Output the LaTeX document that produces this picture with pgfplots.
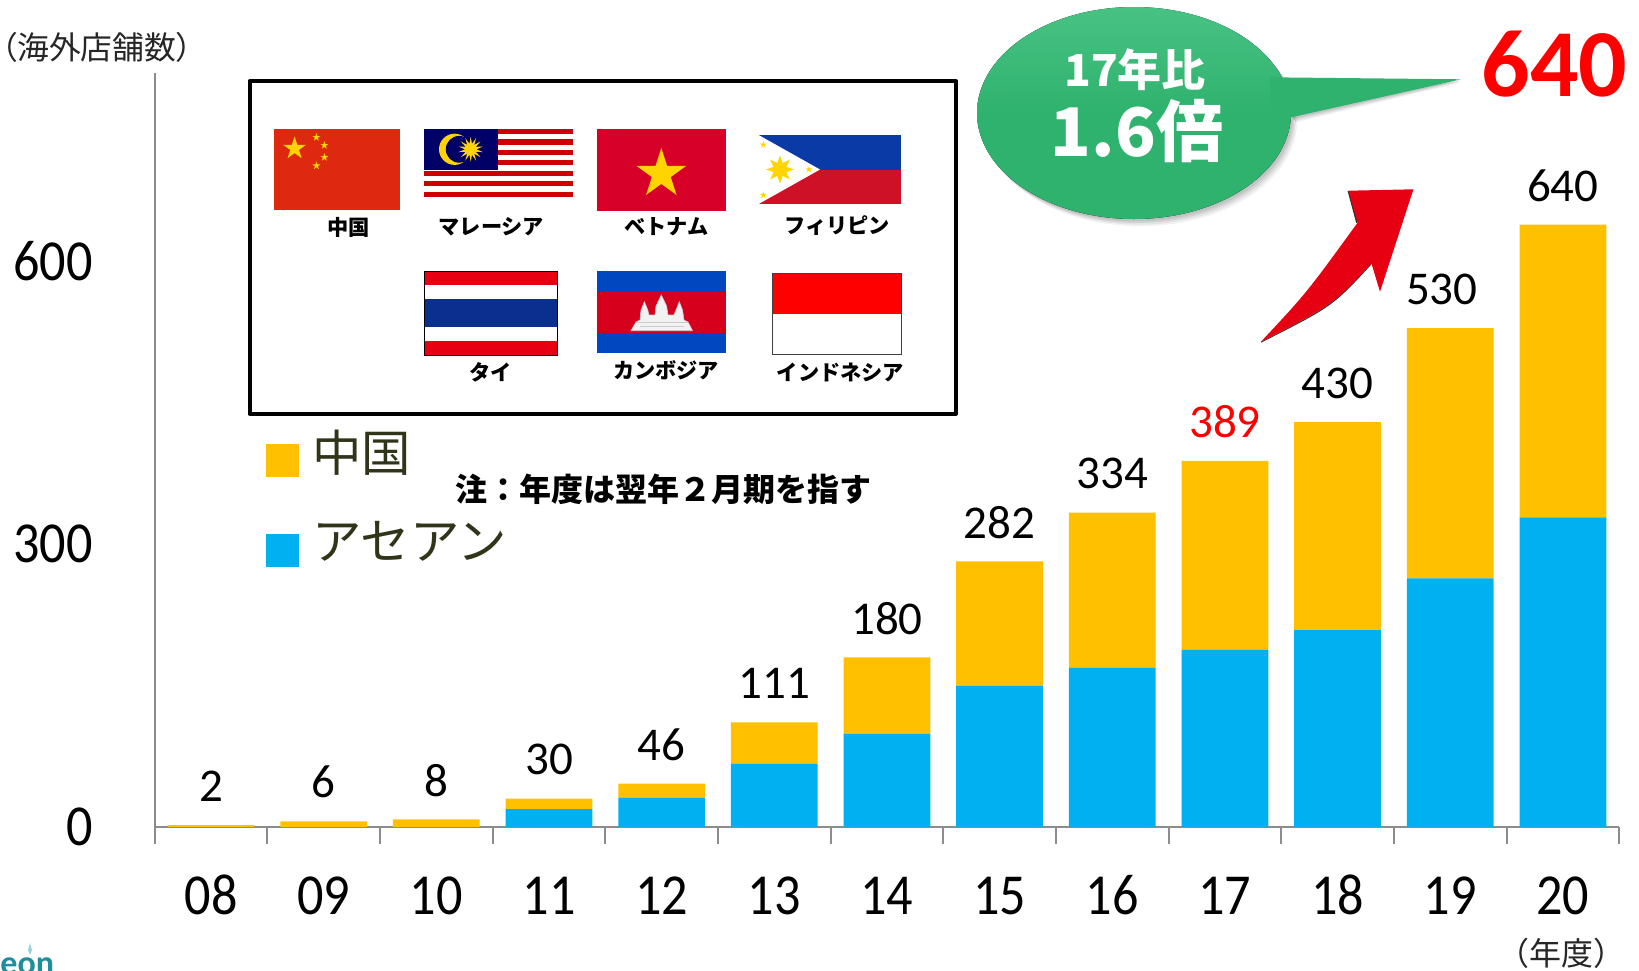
\documentclass[border=0pt]{standalone}
\usepackage{pgfplots}
\usepackage{pgfplotstable}
\usepackage{fontspec}
\pgfplotsset{compat=1.18}
\usetikzlibrary{shapes.geometric}
\setmainfont{Carlito}
\newfontfamily\jp{Noto Sans CJK JP}
\newfontfamily\jpp[RawFeature=+palt]{Noto Sans CJK JP}
\newfontfamily\numf[FakeStretch=0.9]{Carlito}
\newcommand\fs[1]{\fontsize{#1}{#1}\selectfont}
\definecolor{cnorange}{HTML}{FFC000}
\definecolor{asblue}{HTML}{00B0F0}
\definecolor{axgray}{HTML}{8C8C8C}
\definecolor{legtxt}{HTML}{2F3518}
\definecolor{callout}{HTML}{2FB26E}
\definecolor{calltop}{HTML}{48C283}
\definecolor{arrowred}{HTML}{E60012}
\definecolor{cnred}{HTML}{DE2910}
\definecolor{flagyellow}{HTML}{FFD400}
\definecolor{vnred}{HTML}{D60028}
\definecolor{phblue}{HTML}{0A3AA5}
\definecolor{phred}{HTML}{CE1126}
\definecolor{thblue}{HTML}{0A2F8F}
\definecolor{khblue}{HTML}{0047C0}
\definecolor{khred}{HTML}{D6001C}
\definecolor{myred}{HTML}{CC0000}
\definecolor{mynavy}{HTML}{000066}
\definecolor{logoteal}{HTML}{1E8E9C}
\definecolor{logolight}{HTML}{9AD3DA}
\pgfplotstableread{
x asean china top label
0 0 2 0.01 2
1 0 6 0.01 6
2 0 8 0.01 8
3 19 11 0.01 30
4 31 15 0.01 46
5 67 44 0.01 111
6 99 81 0.01 180
7 150 132 0.01 282
8 169 165 0.01 334
9 188 201 0.01 \textcolor{red}{389}
10 209 221 0.01 430
11 264 266 0.01 530\kern8.4pt
12 329 311 0.01 640
}\datatable
\newcommand\fstar[4][flagyellow]{\node[star,star points=5,star point ratio=2.618,fill=#1,inner sep=0pt,minimum size=#4pt] at (#2,#3) {};}
\begin{document}
\begin{tikzpicture}
\path[use as bounding box] (0pt,0pt) rectangle (819.5pt,-485pt);
\begin{axis}[
  at={(77.35pt,-413.45pt)},anchor=south west,
  scale only axis,width=732.25pt,height=376.95pt,
  xmin=-0.5,xmax=12.5,ymin=0,ymax=801,
  ybar stacked,bar width=0.77,
  axis x line=bottom,axis y line=left,
  axis line style={draw=axgray,line width=1pt,-},
  clip=false,
  xtick={0,...,12},
  xticklabels={08,09,10,11,12,13,14,15,16,17,18,19,20},
  minor xtick={-0.5,0.5,...,12.5},
  ytick={0,300,600},
  major tick length=0pt,
  minor tick length=8.3pt,
  tick align=outside,
  minor tick style={draw=axgray,line width=1pt},
  /pgf/number format/assume math mode=true,
  typeset ticklabels with strut,
  xticklabel style={font=\numf\fs{29},yshift=-20pt},
  yticklabel style={font=\numf\fs{29},xshift=-27.5pt,yshift=-3.4pt},
  reverse legend,
  legend style={at={(axis description cs:0.0717,0.5382)},anchor=north west,draw=none,fill=none,
    row sep=11pt,legend cell align=left,text=legtxt},
  legend image code/.code={\fill[#1] (0pt,-8.2pt) rectangle (16.5pt,8.2pt);},
]
\addplot[fill=asblue,draw=none] table[x=x,y=asean] {\datatable};
\addlegendentry{\jp\fs{24.7}\hspace*{4.7pt}\raisebox{8.7pt}{アセアン}}
\addplot[fill=cnorange,draw=none] table[x=x,y=china] {\datatable};
\addlegendentry{\jp\fs{24.7}\hspace*{4.7pt}\raisebox{8.7pt}{中国}}
% near-zero top layer that carries the total of each stack
\addplot[draw=none,fill=none,forget plot,point meta=explicit symbolic,nodes near coords,
  every node near coord/.append style={font=\fs{23.5},text=black,yshift=19.5pt}]
  table[x=x,y=top,meta=label] {\datatable};
\end{axis}
\begin{scope}[x=0.5pt,y=-0.5pt]
% axis notes
\node[anchor=west,inner sep=0pt,font=\jpp\fs{15.9},text=black!85] at (1,47) {（海外店舗数）};
\node[inner sep=0pt,font=\jp\fs{16},text=black!85] at (1561,953) {（年度）};
\node[inner sep=0pt,font=\jp\bfseries\fs{16}] at (663,489.5) {注：年度は翌年２月期を指す};
% flag panel
\draw[line width=2pt,line join=round] (249.5,81) rectangle (956,413.5);
% China
\fill[cnred] (273.9,129) rectangle (399.9,210);
\fstar{294.6}{148.5}{12}
\fstar{316.4}{137.3}{4.2}\fstar{324.4}{145.3}{4.2}\fstar{324.4}{157.3}{4.2}\fstar{316.4}{165.7}{4.2}
% Malaysia
\fill[white] (424,129) rectangle (573,196.7);
\foreach \i in {0,2,...,12} {\fill[myred] (424,{129+\i*5.208}) rectangle (573,{129+(\i+1)*5.208});}
\fill[mynavy] (424,129) rectangle (498,170);
\fill[flagyellow] (454.6,149.3) circle[radius=15.6];
\fill[mynavy] (459.2,149.3) circle[radius=13.4];
\node[star,star points=14,star point ratio=2.2,fill=flagyellow,inner sep=0pt,minimum size=12.5pt] at (470.7,149.3) {};
% Vietnam
\fill[vnred] (597,129) rectangle (726,211);
\fstar{661.3}{174}{26}
% Philippines
\fill[phblue] (758.6,135) rectangle (901,169.5);
\fill[phred] (758.6,169.5) rectangle (901,204);
\fill[white] (758.6,135) -- (820,169.5) -- (758.6,204) -- cycle;
\node[star,star points=8,star point ratio=2.0,fill=flagyellow,inner sep=0pt,minimum size=14pt] at (780,169.5) {};
\fstar{763.3}{144.7}{3.6}\fstar{809}{169.5}{3.6}\fstar{763.3}{195}{3.6}
% Thailand
\fill[arrowred] (424,271) rectangle (557,355);
\fill[white] (424,285) rectangle (557,341);
\fill[thblue] (424,299) rectangle (557,327);
\draw[line width=0.4pt] (424,271) rectangle (557,355);
% Cambodia
\fill[khblue] (597,271) rectangle (726,353);
\fill[khred] (597,291.7) rectangle (726,332.7);
\filldraw[fill=black!5,draw=black!20,line width=0.3pt] (631,330.7) -- (636,322) -- (640,320) -- (641,310) -- (644.4,301.7) -- (647.8,310) -- (649,315) -- (655,315) -- (656,306) -- (661.3,295) -- (666.6,306) -- (668,315) -- (674,315) -- (676,310) -- (679.3,301.7) -- (682.5,310) -- (684,320) -- (688,322) -- (692.5,330.7) -- cycle;
\draw[black!20,line width=0.3pt] (636,322) -- (688,322) (640,326) -- (684,326);
% Indonesia
\fill[red] (772,273) rectangle (901.5,314.3);
\draw[black!75,line width=0.5pt] (772,273) rectangle (901.5,354);
% flag labels
\tikzset{flaglab/.style={inner sep=0pt,font=\jp\bfseries\fs{10.6}}}
\node[flaglab] at (348.5,227.3) {中国};
\node[flaglab] at (491.4,226.5) {マレーシア};
\node[flaglab] at (666.3,226.5) {ベトナム};
\node[flaglab] at (837.4,226) {フィリピン};
\node[flaglab] at (490.5,372.5) {タイ};
\node[flaglab] at (666,370) {カンボジア};
\node[flaglab] at (840.4,372.5) {インドネシア};
% callout
\foreach \o/\a in {9/0.05,7/0.06,5/0.07,3/0.08} {
  \fill[black,opacity=\a] ({1134+\o*0.7},{113+\o*0.8}) ellipse[x radius=157,y radius=106];
  \fill[black,opacity=\a] ({1291+\o*0.5},{117+\o*0.6}) -- ({1461},{79+\o*0.4}) -- ({1283},{90}) -- cycle;
}
\fill[top color=calltop,bottom color=callout,middle color=callout] (1134,113) ellipse[x radius=157,y radius=106];
\fill[callout] (1270,77.3) -- (1461,79.3) -- (1291.3,117.3) -- (1270,125) -- cycle;
\node[inner sep=0pt,text=white,font=\jp\bfseries\fs{22}] at (1135,70) {17年比};
\node[inner sep=0pt,text=white,font=\jp\bfseries\fs{33.5}] at (1137,131) {1.6倍};
\node[inner sep=0pt,text=red,font=\bfseries\fs{48}] at (1554.5,64) {640};
% red arrow
\fill[black!80] (1347.6,191) -- (1356.2,223) -- (1358.5,222) -- (1350,191) -- cycle;
\fill[black!80] (1261,342.7) .. controls (1332.4,306.5) .. (1371.4,264.5) -- (1371.4,263) .. controls (1332.4,305) .. (1261,341.7) -- cycle;
\fill[arrowred] (1261,341.7) .. controls (1306.5,293) .. (1357.6,222.7) -- (1348.5,190.7) -- (1413.4,189.3) -- (1380,291.7) -- (1371.4,263.3) .. controls (1332.4,305) .. cycle;
% logo fragment at the lower edge
\node[anchor=base west,inner sep=0pt,text=logoteal,font=\bfseries\fs{17}] at (0,974) {eon};
\fill[logolight] (30,943) -- (32,950) -- (30,955) -- (28,950) -- cycle;
\end{scope}
\end{tikzpicture}
\end{document}
